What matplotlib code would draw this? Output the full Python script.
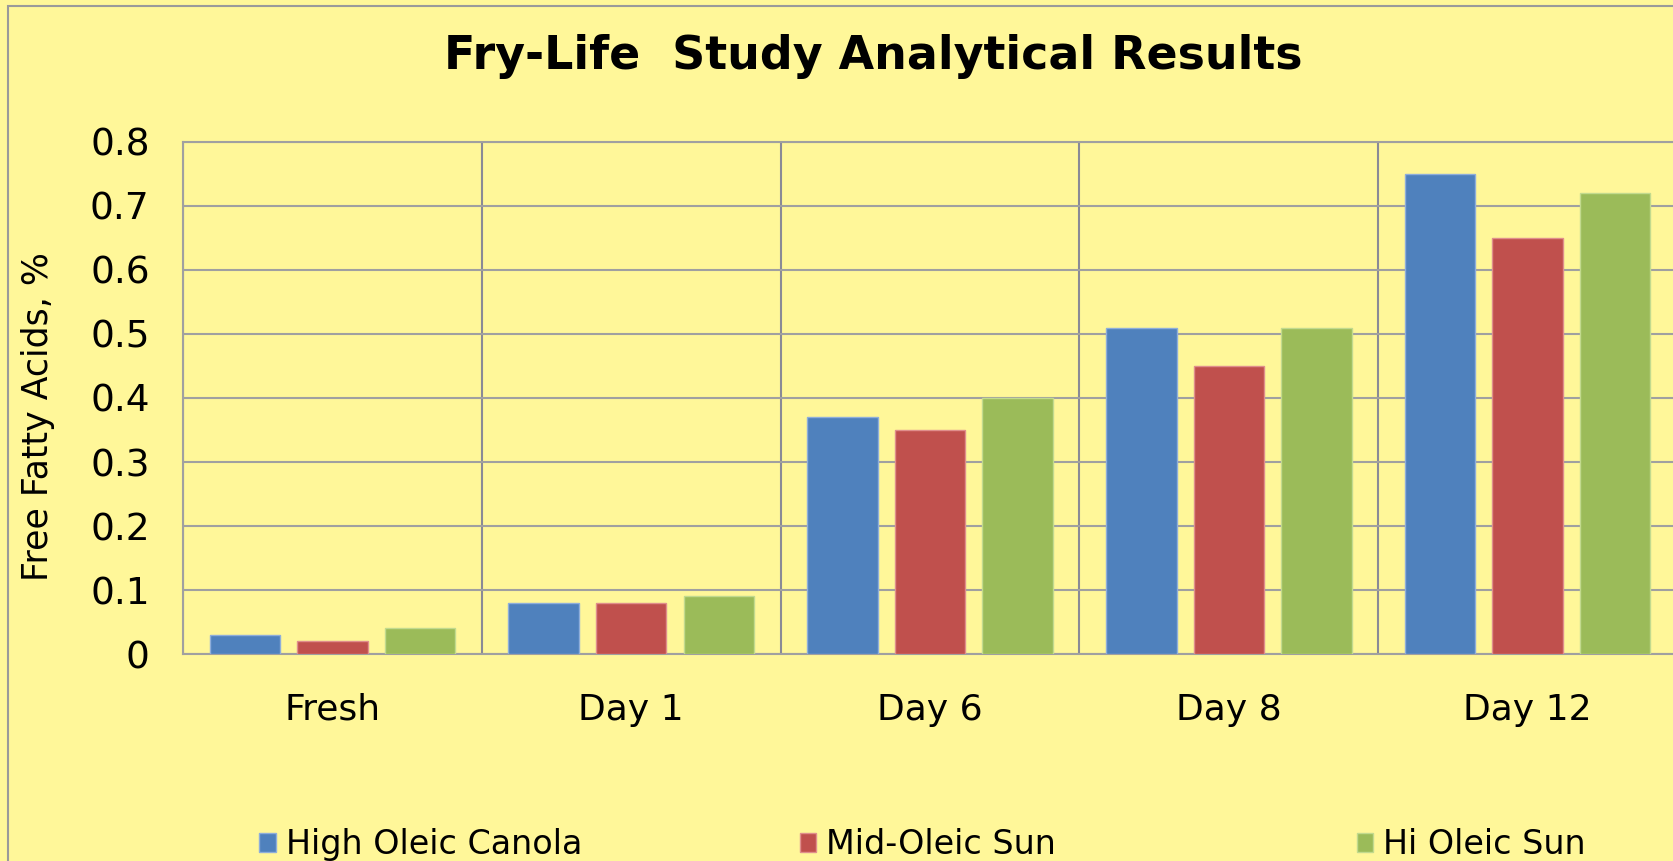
import numpy as np
from matplotlib import pyplot as plt
from matplotlib.patches import Rectangle

categories = ["Fresh", "Day 1", "Day 6", "Day 8", "Day 12"]
series_names = ["High Oleic Canola", "Mid-Oleic Sun", "Hi Oleic Sun"]
canola = [0.03, 0.08, 0.37, 0.51, 0.75]
mid_sun = [0.02, 0.08, 0.35, 0.45, 0.65]
hi_sun = [0.04, 0.09, 0.40, 0.51, 0.72]
y_ticks = [0, 0.1, 0.2, 0.3, 0.4, 0.5, 0.6, 0.7, 0.8]

colors = ["#4F81BD", "#C0504D", "#9BBB59"]
edges = ["#8EAEDB", "#E08E8C", "#C2DA8E"]
bg = "#FFF799"

fig = plt.figure(figsize=(16.73, 8.61), dpi=100, facecolor=bg)
ax = fig.add_axes([0.1094, 0.2404, 0.893, 0.5947])
ax.set_facecolor(bg)

# outer chart frame
fig.patches.append(Rectangle((8 / 1673, -0.1), 1.2, 1 - 6 / 861 + 0.1,
                             transform=fig.transFigure, fill=False,
                             edgecolor="#9a9a9a", linewidth=1.5))

x = np.arange(len(categories))
w = 0.236
step = 0.293
bars = []
for i, vals in enumerate([canola, mid_sun, hi_sun]):
    b = ax.bar(x + (i - 1) * step, vals, width=w, color=colors[i],
               edgecolor=edges[i], linewidth=1, zorder=3, label=series_names[i])
    bars.append(b)

ax.set_xlim(-0.5, len(categories) - 0.5)
ax.set_ylim(0, 0.8)
ax.set_yticks(y_ticks)
ax.set_yticklabels([f"{v:g}" for v in y_ticks])
ax.set_xticks(x)
ax.set_xticklabels(categories)
ax.set_xticks(np.arange(len(categories) + 1) - 0.5, minor=True)
ax.tick_params(axis="both", which="both", length=0)
ax.tick_params(axis="y", pad=24, labelsize=27)
ax.tick_params(axis="x", pad=28, labelsize=26)
ax.grid(axis="y", which="major", color="#a0a0a0", linewidth=1.5, zorder=0)
ax.grid(axis="x", which="minor", color="#8a8a96", linewidth=1.5, zorder=0)
for s in ax.spines.values():
    s.set_color("#a0a0a0")
    s.set_linewidth(1.5)

fig.text(0.522, 0.934, "Fry-Life  Study Analytical Results", ha="center",
         va="center", fontsize=33, fontweight="bold")
fig.text(0.023, 0.516, "Free Fatty Acids, %", rotation=90, ha="center",
         va="center", fontsize=25)

legend_x = [0.155, 0.478, 0.811]
for b, lx in zip(bars, legend_x):
    fig.legend(handles=[b], loc="center left", bbox_to_anchor=(lx, 0.019),
               frameon=False, fontsize=24, handlelength=0.5, handleheight=0.5,
               handletextpad=0.3, borderaxespad=0, borderpad=0)

plt.savefig("out.png", dpi=100, facecolor=bg)
